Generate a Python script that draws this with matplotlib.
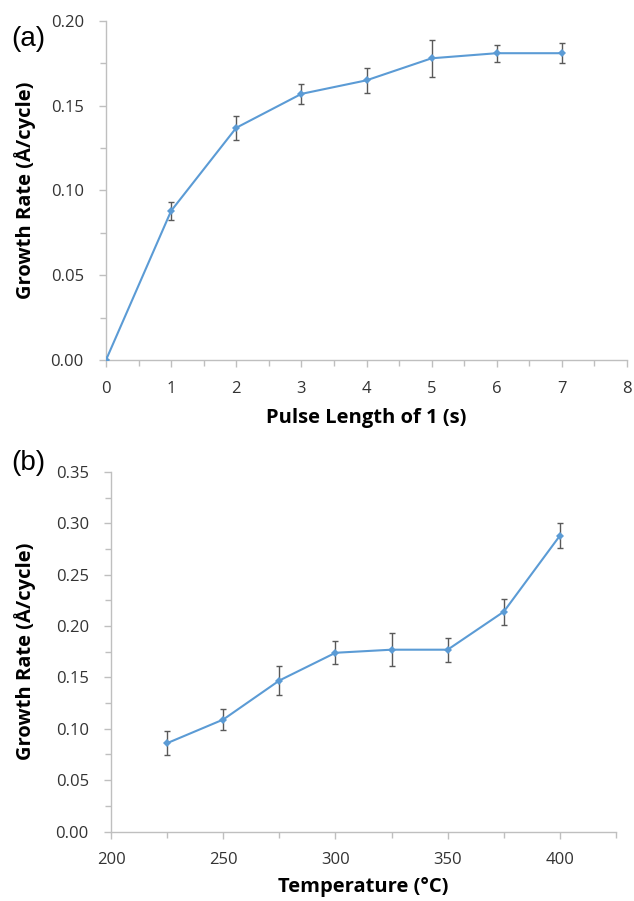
import matplotlib
matplotlib.use("Agg")
import matplotlib.pyplot as plt
from matplotlib.ticker import MultipleLocator, FormatStrFormatter

# Panel (a) data
pulse_len = [0, 1, 2, 3, 4, 5, 6, 7]
rate_a = [0.000, 0.088, 0.137, 0.157, 0.165, 0.178, 0.181, 0.181]
err_a = [0.000, 0.0055, 0.007, 0.006, 0.0075, 0.011, 0.005, 0.006]

# Panel (b) data
temperature = [225, 250, 275, 300, 325, 350, 375, 400]
rate_b = [0.086, 0.109, 0.147, 0.174, 0.177, 0.177, 0.214, 0.288]
err_b = [0.0114, 0.0099, 0.0142, 0.011, 0.016, 0.0115, 0.0127, 0.0123]

line_color = "#5B9BD5"
err_color = "#595959"
spine_color = "#BFBFBF"
tick_color = "#333333"
font = "Open Sans"

W, H = 634, 901
fig = plt.figure(figsize=(W/100, H/100), dpi=100)
ax_a = fig.add_axes([106/W, 1-360/H, (627-106)/W, (360-21)/H])
ax_b = fig.add_axes([111/W, 1-831.5/H, (616-111)/W, (831.5-472)/H])


def style(ax):
    for s in ["top", "right"]:
        ax.spines[s].set_visible(False)
    for s in ["left", "bottom"]:
        ax.spines[s].set_color(spine_color)
        ax.spines[s].set_linewidth(1.0)
    ax.tick_params(which="major", direction="out", length=5, width=1.0,
                   color=spine_color, labelcolor=tick_color, labelsize=12)
    ax.tick_params(axis="y", which="major", pad=11)
    ax.tick_params(axis="x", which="major", pad=10)
    ax.tick_params(which="minor", direction="out", length=4, width=1.0,
                   color=spine_color)
    for lab in ax.get_xticklabels() + ax.get_yticklabels():
        lab.set_fontfamily(font)


def draw(ax, x, y, e):
    ax.errorbar(x, y, yerr=e, fmt="none", ecolor=err_color, elinewidth=1.0,
                capsize=2.5, capthick=1.0, zorder=2)
    ax.plot(x, y, color=line_color, lw=1.5, marker="D", markersize=3.8,
            markeredgewidth=0, zorder=3)


def ylabel(ax, text):
    pos = ax.get_position()
    fig.text(25/W, (pos.y0 + pos.y1) / 2, text, rotation=90, ha="center",
             va="center", fontsize=14.5, fontweight="bold", family=font,
             color="#000000")


def xlabel(ax, text, y_center):
    pos = ax.get_position()
    fig.text((pos.x0 + pos.x1) / 2, 1 - y_center/H, text, ha="center",
             va="center", fontsize=14.5, fontweight="bold", family=font,
             color="#000000")


draw(ax_a, pulse_len, rate_a, err_a)
ax_a.set_xlim(0, 8)
ax_a.set_ylim(0, 0.20)
ax_a.xaxis.set_major_locator(MultipleLocator(1))
ax_a.xaxis.set_minor_locator(MultipleLocator(0.5))
ax_a.yaxis.set_major_locator(MultipleLocator(0.05))
ax_a.yaxis.set_minor_locator(MultipleLocator(0.025))
ax_a.yaxis.set_major_formatter(FormatStrFormatter("%.2f"))
style(ax_a)
xlabel(ax_a, "Pulse Length of 1 (s)", 418)
ylabel(ax_a, "Growth Rate (Å/cycle)")

draw(ax_b, temperature, rate_b, err_b)
ax_b.set_xlim(200, 425)
ax_b.set_ylim(0, 0.35)
ax_b.xaxis.set_major_locator(MultipleLocator(50))
ax_b.xaxis.set_minor_locator(MultipleLocator(25))
ax_b.yaxis.set_major_locator(MultipleLocator(0.05))
ax_b.yaxis.set_minor_locator(MultipleLocator(0.025))
ax_b.yaxis.set_major_formatter(FormatStrFormatter("%.2f"))
style(ax_b)
xlabel(ax_b, "Temperature (°C)", 887)
ylabel(ax_b, "Growth Rate (Å/cycle)")

fig.text(11/W, 1-46/H, "(a)", fontsize=20, family="Liberation Sans", va="baseline")
fig.text(11/W, 1-470/H, "(b)", fontsize=20, family="Liberation Sans", va="baseline")

fig.savefig("out.png", dpi=100, facecolor="white")
